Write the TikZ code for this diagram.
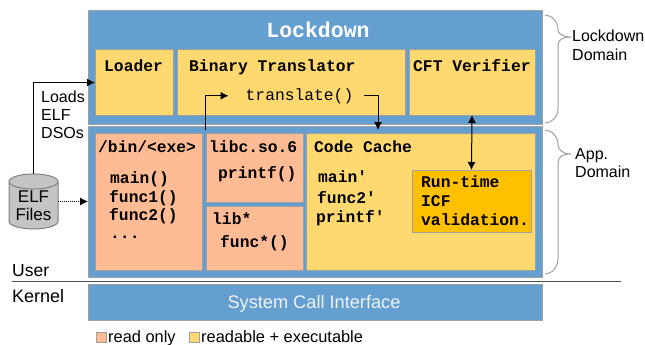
\documentclass[tikz,border=0pt]{standalone}
\usepackage{fontspec}
\setmainfont{Liberation Sans}
\setmonofont{Liberation Mono}
\usetikzlibrary{arrows.meta,shapes.geometric}
\definecolor{domainblue}{HTML}{659FD0}
\definecolor{execyellow}{HTML}{FFD970}
\definecolor{readorange}{HTML}{FFBB94}
\definecolor{icfgold}{HTML}{FFC000}
\definecolor{boxgray}{HTML}{A0A0A0}
\tikzset{
  box/.style={draw=boxgray,line width=1pt,inner sep=0pt,outer sep=0pt,anchor=north west},
  domainbox/.style={box,fill=domainblue},
  execbox/.style={box,fill=execyellow},
  readbox/.style={box,fill=readorange},
  code/.style={font=\fontsize{16.3}{18}\selectfont\ttfamily\bfseries,inner sep=0pt,anchor=base west},
  side/.style={font=\fontsize{16}{18}\selectfont,inner sep=0pt,align=left,anchor=base west},
  link/.style={line width=1pt,-{Latex[length=8pt,width=8pt]}},
  curly/.style={draw=boxgray,line width=1pt}
}
\begin{document}
\begin{tikzpicture}[x=1pt,y=-1pt]
\useasboundingbox (0,0) rectangle (645,345);
% domains
\node[domainbox,minimum width=454pt,minimum height=113pt] (lockdown) at (88,11) {};
\node[domainbox,minimum width=454pt,minimum height=151pt] (app) at (88,126) {};
\node[domainbox,minimum width=454pt,minimum height=36pt] (syscall) at (88,284) {};
\node[font=\fontsize{21.5}{24}\selectfont\ttfamily\bfseries,text=white,inner sep=0pt,anchor=base] (lockdowntitle) at (318,38) {Lockdown};
\node[font=\fontsize{18.2}{20}\selectfont,text=white!88!domainblue,inner sep=0pt,anchor=base] (syscalltext) at (314,308.5) {System Call Interface};
% lockdown parts
\node[execbox,minimum width=78pt,minimum height=65pt] (loader) at (95,50) {};
\node[execbox,minimum width=227.5pt,minimum height=65pt] (translator) at (177.5,50) {};
\node[execbox,minimum width=126pt,minimum height=65pt] (verifier) at (409,50) {};
\node[code] (loadertext) at (104,71) {Loader};
\node[code] (translatortext) at (189,71) {Binary Translator};
\node[code] (verifiertext) at (413,71) {CFT Verifier};
\node[font=\fontsize{16.3}{18}\selectfont\ttfamily,inner sep=0pt,anchor=base] (translate) at (299.5,100) {translate()};
% app parts
\node[readbox,minimum width=107pt,minimum height=136.5pt] (exe) at (95,133.5) {};
\node[readbox,minimum width=97pt,minimum height=68.5pt] (libc) at (206,133.5) {};
\node[readbox,minimum width=97pt,minimum height=64pt] (lib) at (206,206) {};
\node[execbox,minimum width=228.5pt,minimum height=136.5pt] (cache) at (306.5,133.5) {};
\node[box,fill=icfgold,minimum width=119pt,minimum height=62pt] (icf) at (412,170) {};
\node[code] (exetext) at (98,152) {/bin/<exe>};
\node[code] (maintext) at (110,183) {main()};
\node[code] (funcatext) at (109,202) {func1()};
\node[code] (funcbtext) at (109,220) {func2()};
\node[code] (dotstext) at (110,238) {...};
\node[code] (libctext) at (209,152) {libc.so.6};
\node[code] (printftext) at (218,178) {printf()};
\node[code] (libtext) at (212,224) {lib*};
\node[code] (funcstext) at (220,247) {func*()};
\node[code] (cachetext) at (314,152) {Code Cache};
\node[code] (mainptext) at (318,182) {main'};
\node[code] (funcptext) at (317,203) {func2'};
\node[code] (printfptext) at (316,222) {printf'};
\node[code] (icfa) at (421,187) {Run-time};
\node[code] (icfb) at (421,206) {ICF};
\node[code] (icfc) at (421,225) {validation.};
% elf files
\node[cylinder,shape border rotate=90,aspect=0.42,draw=gray,fill=black!23,line width=1pt,
  minimum width=49pt,minimum height=55pt,inner sep=0pt,outer sep=0pt,
  font=\fontsize{17}{18}\selectfont,align=center] (files) at (33.5,205.5) {ELF\\Files};
\node[side] (loads) at (41,138) {Loads\\ELF\\DSOs};
% connectors
\coordinate (translatefrom) at (205,130);
\coordinate (cachein) at (378,130);
\draw[link] (files.north) |- (loader.west);
\draw[link,densely dotted,-{Latex[length=8pt,width=8pt]}] (files.east |- app.west) -- (app.west);
\draw[link] (translatefrom) |- ([xshift=-17pt]translate.west);
\draw[link] ([xshift=10pt]translate.east) -| (cachein);
\draw[link,{Latex[length=8pt,width=8pt]}-{Latex[length=8pt,width=8pt]}] (verifier.south) -- (icf.north);
% user kernel split
\coordinate (splitleft) at (12,281);
\coordinate (splitright) at (621,281);
\draw[line width=1pt,black!70] (splitleft) -- (splitright);
\node[side,font=\fontsize{17.5}{18}\selectfont] (user) at (12,276) {User};
\node[side,font=\fontsize{18}{18}\selectfont] (kernel) at (12,302) {Kernel};
% domain braces
\draw[curly] (545,15) .. controls (552,15) and (558,22) .. (558,30) .. controls (558,33) and (562,37) .. (571,37)
  .. controls (562,37) and (558,40) .. (558,46) -- (558,108) .. controls (558,117) and (552,123) .. (545,123);
\draw[curly] (545,130) .. controls (552,130) and (558,137) .. (558,145) .. controls (558,149) and (562,154) .. (571,154)
  .. controls (562,154) and (558,157) .. (558,163) -- (558,258) .. controls (558,267) and (552,274) .. (545,274);
\node[side] (lockdownlabel) at (572,60) {Lockdown\\Domain};
\node[side] (applabel) at (575,177) {App.\\Domain};
% legend
\node[readbox,minimum width=10pt,minimum height=10pt] (readkey) at (96,332) {};
\node[execbox,minimum width=10pt,minimum height=10pt] (execkey) at (189,332) {};
\node[side,font=\fontsize{16.4}{18}\selectfont] (readtext) at (108,342) {read only};
\node[side,font=\fontsize{16.4}{18}\selectfont] (exectext) at (201,342) {readable + executable};
\end{tikzpicture}
\end{document}
